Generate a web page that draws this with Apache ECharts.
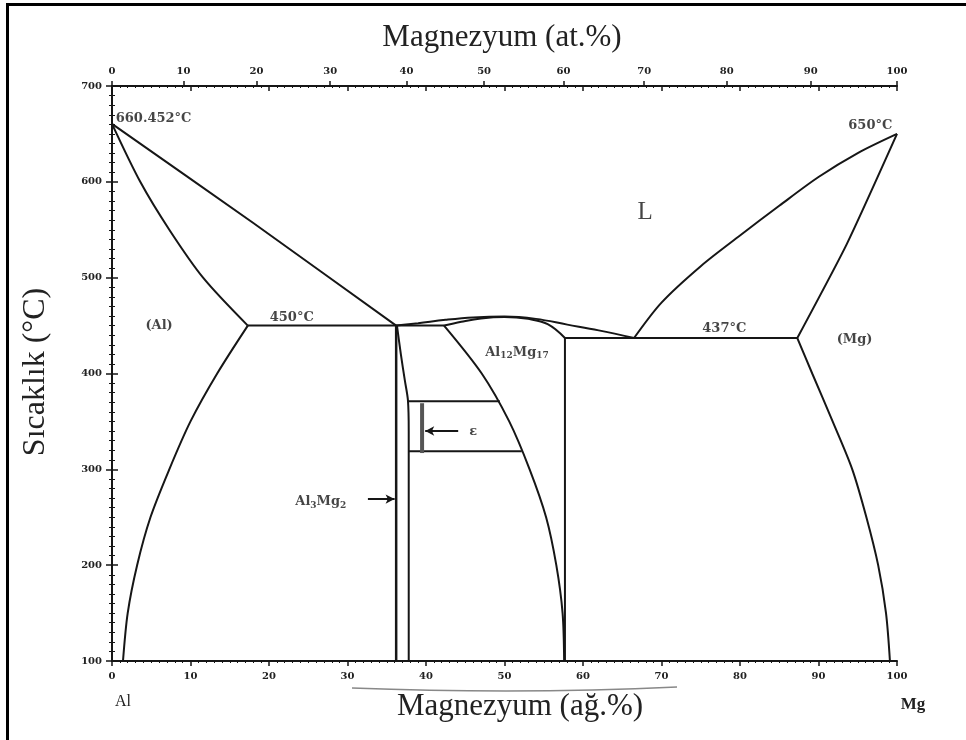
<!DOCTYPE html>
<html>
<head>
<meta charset="utf-8">
<title>Al-Mg faz diyagramı</title>
<script src="https://cdn.jsdelivr.net/npm/echarts@6/dist/echarts.min.js"></script>
<style>
  html, body { margin: 0; padding: 0; background: #fff; }
  #main { width: 966px; height: 740px; }
</style>
</head>
<body>
<div id="main"></div>
<script>
// üst eksen: atom % etiketleri ve ağ.% karşılıkları
const atLabels = [0, 10, 20, 30, 40, 50, 60, 70, 80, 90, 100];
const atPos = [0, 9.1, 18.4, 27.8, 37.5, 47.4, 57.5, 67.8, 78.3, 89.0, 100];

// faz sınırları [ağ.% Mg, °C]
const liquidusAl = [[0, 660.45], [18, 557], [36.2, 450]];
const solidusAl = [[0, 660.45], [3.6, 600], [7.3, 550], [11.6, 500], [17.3, 450]];
const solvusAl = [[17.3, 450], [13.4, 400], [10.0, 350], [7.3, 300], [4.9, 250], [3.2, 200], [2.0, 150], [1.4, 100]];
const eutectic450 = [[17.3, 450], [42.3, 450]];
const betaLeft = [[36.2, 450], [36.2, 100]];
const betaRight = [[36.3, 450], [36.8, 420], [37.3, 393], [37.7, 372], [37.8, 340], [37.8, 100]];
const epsTop = [[37.7, 371], [49.4, 371]];
const epsBottom = [[37.8, 319], [52.2, 319]];
const epsPhase = [[39.5, 369], [39.5, 317]];
const gammaLeft = [[42.3, 450], [47.1, 400], [50.6, 350], [53.2, 300], [55.3, 250], [56.6, 200], [57.4, 150], [57.6, 100]];
const gammaSolidus = [[42.3, 450], [44.5, 454], [47, 457.5], [50, 459], [53, 457], [55.5, 451.5], [57.7, 437]];
const liquidusMid = [[36.2, 450], [39, 452.5], [42.5, 456], [46, 458.5], [50, 459.5], [54, 457], [58, 451], [62, 445], [66.5, 437]];
const gammaRight = [[57.7, 437], [57.7, 100]];
const eutectic437 = [[57.7, 437], [87.3, 437]];
const liquidusMg = [[66.5, 437], [70, 474], [75, 512], [80, 544], [85, 575], [90, 605], [95, 630], [100, 650]];
const solidusMg = [[87.3, 437], [93.6, 535], [100, 650]];
const solvusMg = [[87.3, 437], [89.2, 400], [91.8, 350], [94.3, 300], [96.1, 250], [97.6, 200], [98.6, 150], [99.1, 100]];

// ok işaretleri [başlangıç, bitiş]
const arrowAl3Mg2 = [[32.6, 269], [36.0, 269]];
const arrowEps = [[44.1, 340], [39.9, 340]];

// bölge yazıları
const annoText = ['660.452°C', '650°C', 'L', '(Al)', '450°C', '437°C', '(Mg)', 'Al12Mg17', 'Al3Mg2', 'ε'];
const annoX = [5.3, 96.6, 67.9, 6.0, 22.9, 78.0, 94.6, 51.6, 26.6, 46.0];
const annoY = [665.5, 659, 568, 449.5, 458, 447, 435, 422, 266, 339];

const chart = echarts.init(document.getElementById('main'));
const SERIF = '"Liberation Serif", "DejaVu Serif", serif';
const WIDE = '"DejaVu Serif", "Liberation Serif", serif';
const INK = '#161616';

const curve = (data, smooth, extra) => Object.assign({
  type: 'line',
  data: data,
  xAxisIndex: 0,
  yAxisIndex: 0,
  showSymbol: false,
  symbol: 'none',
  smooth: smooth || false,
  silent: true,
  lineStyle: { color: INK, width: 2 }
}, extra || {});

const arrow = (pts) => ({
  type: 'line',
  data: [],
  silent: true,
  markLine: {
    silent: true,
    symbol: ['none', 'arrow'],
    symbolSize: [7, 9],
    label: { show: false },
    lineStyle: { color: INK, width: 2, type: 'solid' },
    data: [[{ coord: pts[0] }, { coord: pts[1] }]]
  }
});

const richLabel = (t) => {
  if (t === 'Al12Mg17') return '{b|Al}{s|12}{b|Mg}{s|17}';
  if (t === 'Al3Mg2') return '{b|Al}{s|3}{b|Mg}{s|2}';
  if (t === 'L') return '{L|L}';
  if (t === 'ε') return '{e|ε}';
  return '{b|' + t + '}';
};

const annoData = annoText.map((t, i) => ({ value: [annoX[i], annoY[i]], name: t }));

const tickLabel = { fontFamily: WIDE, fontWeight: 'bold', fontSize: 10, color: '#222' };

const option = {
  backgroundColor: '#fff',
  animation: false,
  grid: { left: 112, top: 86, right: 69, bottom: 79 },
  xAxis: [
    {
      type: 'value', position: 'bottom', min: 0, max: 100, interval: 10,
      axisLine: { lineStyle: { color: INK, width: 2 } },
      axisTick: { length: 5, lineStyle: { color: INK, width: 1.5 } },
      minorTick: { show: true, splitNumber: 10, length: 2, lineStyle: { color: INK, width: 1 } },
      axisLabel: Object.assign({ margin: 10 }, tickLabel),
      splitLine: { show: false }
    },
    {
      type: 'value', position: 'top', min: 0, max: 100,
      axisLine: { lineStyle: { color: INK, width: 2 } },
      axisTick: { length: 5, customValues: atPos, lineStyle: { color: INK, width: 1.5 } },
      axisLabel: Object.assign({
        margin: 10,
        customValues: atPos,
        formatter: (v) => atLabels[atPos.indexOf(v)]
      }, tickLabel),
      splitLine: { show: false }
    },
    {
      type: 'value', position: 'top', min: 0, max: 100, interval: 10,
      axisLine: { show: false },
      axisTick: { inside: true, length: 5, lineStyle: { color: INK, width: 1.5 } },
      minorTick: { show: true, splitNumber: 10, length: 2, lineStyle: { color: INK, width: 1 } },
      axisLabel: { show: false },
      splitLine: { show: false }
    }
  ],
  yAxis: [
    {
      type: 'value', position: 'left', min: 100, max: 700, interval: 100,
      axisLine: { show: true, lineStyle: { color: INK, width: 2 } },
      axisTick: { show: true, length: 6, lineStyle: { color: INK, width: 1.5 } },
      minorTick: { show: true, splitNumber: 10, length: 3, lineStyle: { color: INK, width: 1 } },
      axisLabel: Object.assign({ margin: 10 }, tickLabel),
      splitLine: { show: false }
    },
    {
      type: 'value', position: 'right', min: 100, max: 700, interval: 100,
      axisLine: { show: true, lineStyle: { color: INK, width: 2 } },
      axisTick: { show: true, length: 6, lineStyle: { color: INK, width: 1.5 } },
      minorTick: { show: true, splitNumber: 10, length: 3, lineStyle: { color: INK, width: 1 } },
      axisLabel: { show: false },
      splitLine: { show: false }
    }
  ],
  series: [
    curve(liquidusAl, 0.2),
    curve(solidusAl, 0.3),
    curve(solvusAl, 0.3),
    curve(eutectic450),
    curve(betaLeft, false, { lineStyle: { color: INK, width: 2.5 } }),
    curve(betaRight, 0.3),
    curve(epsTop),
    curve(epsBottom),
    curve(epsPhase, false, { lineStyle: { color: '#555', width: 4 } }),
    curve(gammaLeft, 0.3),
    curve(gammaSolidus, 0.4),
    curve(liquidusMid, 0.4),
    curve(gammaRight),
    curve(eutectic437),
    curve(liquidusMg, 0.3),
    curve(solidusMg, 0.2),
    curve(solvusMg, 0.3),
    arrow(arrowAl3Mg2),
    arrow(arrowEps),
    {
      type: 'scatter',
      data: annoData,
      symbolSize: 0,
      clip: false,
      silent: true,
      label: {
        show: true,
        position: 'inside',
        color: INK,
        formatter: (p) => richLabel(p.name),
        rich: {
          b: { fontFamily: WIDE, fontWeight: 'bold', fontSize: 13, color: INK },
          s: { fontFamily: WIDE, fontWeight: 'bold', fontSize: 9, color: INK, padding: [7, 0, 0, 0] },
          L: { fontFamily: SERIF, fontSize: 25, color: INK },
          e: { fontFamily: WIDE, fontWeight: 'bold', fontSize: 13, color: INK }
        }
      }
    }
  ],
  graphic: [
    { type: 'line', shape: { x1: 7.5, y1: 3, x2: 7.5, y2: 740 }, style: { stroke: '#000', lineWidth: 3 } },
    { type: 'line', shape: { x1: 6, y1: 4.5, x2: 966, y2: 4.5 }, style: { stroke: '#000', lineWidth: 3 } },
    {
      type: 'text', x: 502, y: 38,
      style: { text: 'Magnezyum (at.%)', font: '31px ' + SERIF, fill: '#222', textAlign: 'center', textVerticalAlign: 'middle' }
    },
    {
      type: 'text', x: 520, y: 707,
      style: { text: 'Magnezyum (ağ.%)', font: '31px ' + SERIF, fill: '#222', textAlign: 'center', textVerticalAlign: 'middle' }
    },
    {
      type: 'text', x: 36, y: 372, rotation: Math.PI / 2,
      style: { text: 'Sıcaklık (°C)', font: '32px ' + SERIF, fill: '#222', textAlign: 'center', textVerticalAlign: 'middle' }
    },
    {
      type: 'text', x: 123, y: 702,
      style: { text: 'Al', font: '16px ' + SERIF, fill: '#222', textAlign: 'center', textVerticalAlign: 'middle' }
    },
    {
      type: 'text', x: 913, y: 705,
      style: { text: 'Mg', font: 'bold 17px ' + SERIF, fill: '#222', textAlign: 'center', textVerticalAlign: 'middle' }
    },
    {
      type: 'bezierCurve',
      shape: { x1: 352, y1: 688, x2: 677, y2: 687, cpx1: 460, cpy1: 692, cpx2: 570, cpy2: 692 },
      style: { stroke: '#888', lineWidth: 1.5, fill: 'none' }
    }
  ]
};

chart.setOption(option);
</script>
</body>
</html>
